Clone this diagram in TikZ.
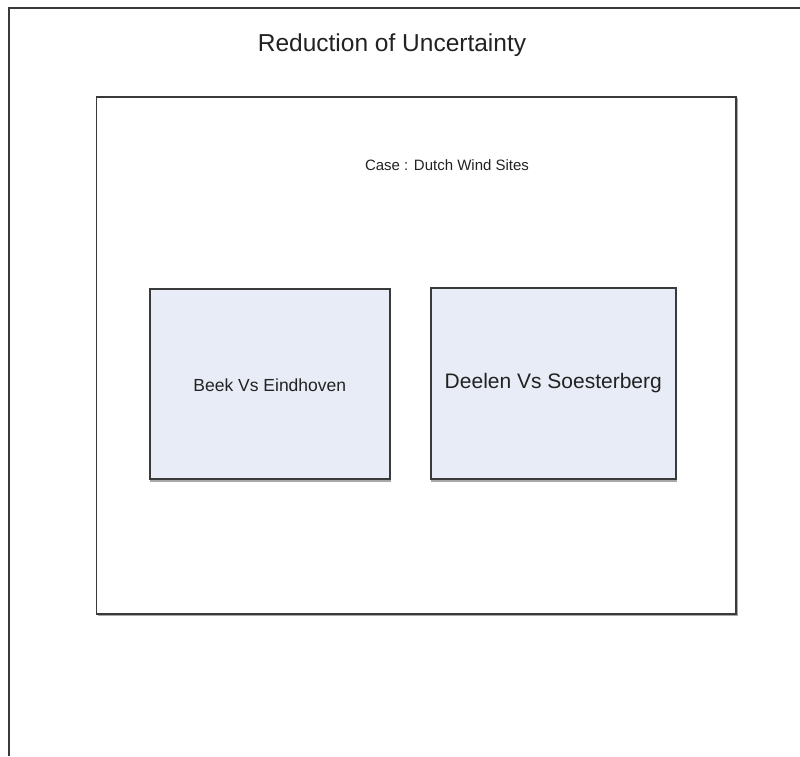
\documentclass[tikz,border=0pt]{standalone}
\usepackage{fontspec}
\setmainfont{Liberation Sans}
\definecolor{edge}{HTML}{3A3A3A}
\definecolor{shade}{HTML}{A8A8A8}
\definecolor{boxfill}{HTML}{E8ECF6}
\definecolor{ink}{HTML}{222222}
\tikzset{
  x=1pt, y=1pt,
  frame/.style={draw=edge, line width=1.6pt},
  frameshadow/.style={draw=shade, line width=1.6pt},
  sitebox/.style={draw=edge, fill=boxfill, line width=1.6pt, inner sep=0pt, anchor=south west},
  label/.style={text=ink, inner sep=0pt}
}
% shadow along the right and bottom sides of a box given by two corners
\newcommand{\rbshadow}[4]{%
  \draw[frameshadow] (#1+1,#2-0.9) -- (#3+0.9,#2-0.9) -- (#3+0.9,#4-1);}
\begin{document}
\begin{tikzpicture}
\useasboundingbox (0,0) rectangle (800,756);
% outer frame: only its left and top sides fall inside the page
\draw[frame] (9,0) -- (9,748) -- (800,748);
\node[label, font=\fontsize{24.5}{28}\selectfont] (title) at (392,711) {Reduction of Uncertainty};
% inner case frame
\rbshadow{96.5}{142}{736}{659}
\draw[frame] (96.5,142) rectangle (736,659);
\node[label, font=\fontsize{15}{18}\selectfont] (case) at (447,591) {Case : Dutch Wind Sites};
% the two site comparisons
\rbshadow{149}{276}{389}{466}
\node[sitebox, minimum width=240pt, minimum height=190pt] (beek) at (149,276) {};
\node[label, font=\fontsize{17.5}{21}\selectfont] (beektext) at ([yshift=-1pt]beek.center) {Beek Vs Eindhoven};
\rbshadow{430}{276}{675}{467}
\node[sitebox, minimum width=245pt, minimum height=191pt] (deelen) at (430,276) {};
\node[label, font=\fontsize{21}{25}\selectfont] (deelentext) at ([yshift=1pt]deelen.center) {Deelen Vs Soesterberg};
\end{tikzpicture}
\end{document}
